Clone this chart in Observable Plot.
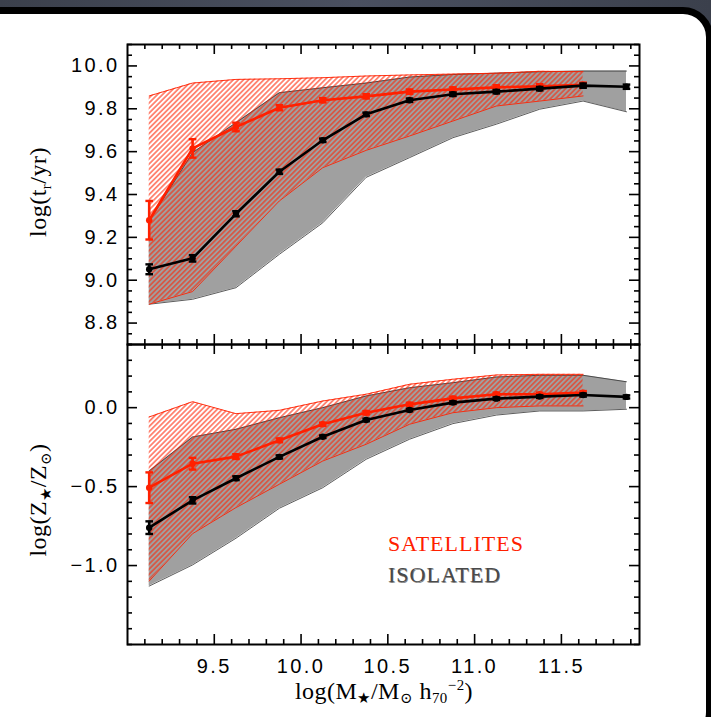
<!DOCTYPE html>
<html><head><meta charset="utf-8">
<script src="https://cdn.jsdelivr.net/npm/d3@7"></script>
<script src="https://cdn.jsdelivr.net/npm/@observablehq/plot@0.6"></script>
<style>
html,body{margin:0;padding:0}
body{width:711px;height:717px;overflow:hidden;position:relative;background:linear-gradient(90deg,#3b404c,#4a5060,#3b404c);}
#card{position:absolute;left:-40px;top:7px;width:753px;height:735px;box-sizing:border-box;border:7px solid #000;border-radius:30px;background:#fff;}
.panel{position:absolute;left:0}
.ttl{position:absolute;font-family:"Liberation Serif","DejaVu Serif",serif;font-size:24px;letter-spacing:0.5px;color:#000;white-space:nowrap;line-height:1}
.ttl sub{font-size:0.62em;vertical-align:-0.3em}
.ttl sup{font-size:0.62em;vertical-align:0.6em}
.rot{transform:translate(-50%,-50%) rotate(-90deg)}
.legend{position:absolute;font-family:"Liberation Serif","DejaVu Serif",serif;font-size:22px;letter-spacing:1px;line-height:1;white-space:nowrap}
</style>
</head><body>
<div id="card"></div>
<svg width="0" height="0" style="position:absolute">
  <defs>
    <pattern id="hatch" patternUnits="userSpaceOnUse" width="3.6" height="3.6" patternTransform="rotate(45)">
      <line x1="1.8" y1="-1" x2="1.8" y2="4.6" stroke="#ff2000" stroke-width="1"/>
    </pattern>
  </defs>
</svg>
<div id="top" class="panel" style="top:0"></div>
<div id="bottom" class="panel" style="top:344px"></div>
<div class="ttl rot" style="left:40px;top:192px">log(t<sub>r</sub>/yr)</div>
<div class="ttl rot" style="left:40px;top:500px">log(Z<sub>★</sub>/Z<sub>⊙</sub>)</div>
<div class="ttl" style="left:384px;top:678px;transform:translateX(-50%)">log(M<sub>★</sub>/M<sub>⊙</sub> h<sub>70</sub><sup>−2</sup>)</div>
<div class="legend" style="left:388px;top:533px;color:#ff2000">SATELLITES</div>
<div class="legend" style="left:388px;top:564px;color:#4a4a4a;text-shadow:0.6px 0.6px 0.6px #888">ISOLATED</div>
<script>
// ---- data ----
const massBins = [9.125, 9.375, 9.625, 9.875, 10.125, 10.375, 10.625, 10.875, 11.125, 11.375, 11.625, 11.875];

// log(t_r/yr) : light-weighted age
const satAge    = [9.28, 9.615, 9.715, 9.805, 9.84, 9.858, 9.88, 9.89, 9.90, 9.905, 9.912];
const satAgeErr = [0.09, 0.043, 0.02, 0.012, 0.01, 0.01, 0.01, 0.01, 0.01, 0.01, 0.01];
const satAgeHi  = [9.86, 9.92, 9.937, 9.94, 9.945, 9.953, 9.958, 9.962, 9.966, 9.975, 9.973];
const satAgeLo  = [8.888, 8.947, 9.159, 9.37, 9.525, 9.606, 9.673, 9.743, 9.813, 9.836, 9.86];
const isoAge    = [9.051, 9.102, 9.31, 9.506, 9.653, 9.774, 9.84, 9.868, 9.88, 9.894, 9.908, 9.903];
const isoAgeErr = [0.023, 0.015, 0.012, 0.01, 0.008, 0.008, 0.008, 0.008, 0.008, 0.008, 0.01, 0.01];
const isoAgeHi  = [9.276, 9.595, 9.735, 9.875, 9.898, 9.92, 9.948, 9.96, 9.966, 9.973, 9.976, 9.976];
const isoAgeLo  = [8.888, 8.911, 8.965, 9.121, 9.268, 9.48, 9.572, 9.665, 9.728, 9.798, 9.836, 9.786];

// log(Z*/Zsun) : stellar metallicity
const satZ    = [-0.507, -0.355, -0.31, -0.207, -0.105, -0.032, 0.021, 0.059, 0.085, 0.085, 0.095];
const satZErr = [0.097, 0.037, 0.015, 0.012, 0.01, 0.01, 0.01, 0.01, 0.01, 0.01, 0.01];
const satZHi  = [-0.059, 0.038, -0.038, -0.017, 0.042, 0.085, 0.148, 0.18, 0.207, 0.211, 0.211];
const satZLo  = [-1.098, -0.798, -0.633, -0.485, -0.338, -0.232, -0.105, -0.032, 0.0, 0.011, 0.011];
const isoZ    = [-0.76, -0.587, -0.447, -0.312, -0.184, -0.078, -0.015, 0.032, 0.057, 0.07, 0.08, 0.068];
const isoZErr = [0.04, 0.02, 0.012, 0.01, 0.008, 0.008, 0.008, 0.008, 0.008, 0.008, 0.01, 0.01];
const isoZHi  = [-0.401, -0.186, -0.137, -0.064, 0.0, 0.074, 0.126, 0.158, 0.194, 0.205, 0.205, 0.164];
const isoZLo  = [-1.13, -0.996, -0.827, -0.637, -0.507, -0.327, -0.2, -0.101, -0.047, -0.021, -0.021, -0.01];

// axes
const xDomain = [9.0, 11.95];
const xTickLabels = [9.5, 10.0, 10.5, 11.0, 11.5];
const ageDomain = [8.7, 10.1];
const ageTickLabels = [8.8, 9.0, 9.2, 9.4, 9.6, 9.8, 10.0];
const zDomain = [-1.5, 0.4];
const zTickLabels = [-1.0, -0.5, 0.0];

// ---- helpers ----
const RED = "#ff2000";
const FW = 512, FH = 300;
const rows = (v, e, lo, hi) => v.map((d, i) => ({m: massBins[i], v: d, e: e[i], lo: lo[i], hi: hi[i]}));
const fmt = d => d.toFixed(1).replace("-", "\u2212");
const near = (a, list) => list.some(b => Math.abs(a - b) < 1e-6);
const minor = (lo, hi, step, majors) => d3.range(Math.round(lo / step), Math.round(hi / step) + 1).map(k => +(k * step).toFixed(3)).filter(d => !near(d, majors));
const cap = {draw(ctx, size) { const r = Math.sqrt(size / Math.PI); ctx.moveTo(-r, 0); ctx.lineTo(r, 0); }};

function series(data, color) {
  return [
    Plot.line(data, {x: "m", y: "v", stroke: color, strokeWidth: 2.6}),
    Plot.ruleX(data, {x: "m", y1: d => d.v - d.e, y2: d => d.v + d.e, stroke: color, strokeWidth: 2.6}),
    Plot.dot(data, {x: "m", y: d => d.v + d.e, symbol: cap, r: 3.8, stroke: color, fill: "none", strokeWidth: 2.4}),
    Plot.dot(data, {x: "m", y: d => d.v - d.e, symbol: cap, r: 3.8, stroke: color, fill: "none", strokeWidth: 2.4}),
    Plot.dot(data, {x: "m", y: "v", r: 3.2, fill: color, stroke: "none"})
  ];
}

function panel({height, marginTop, marginBottom, yDomain, yLabels, yMinorStep, sat, iso, showX}) {
  const xMaj = xTickLabels;
  const xMin = minor(9.1, 11.9, 0.1, xMaj);
  const yMin = minor(yDomain[0], yDomain[1], yMinorStep, yLabels);
  const tickStyle = {stroke: "#000", strokeWidth: 1.6};
  return Plot.plot({
    width: 711, height, marginLeft: 127, marginRight: 72, marginTop, marginBottom,
    x: {domain: xDomain, axis: null},
    y: {domain: yDomain, axis: null},
    style: {background: "transparent", fontFamily: "'Liberation Sans', Arial, sans-serif", fontSize: "20px", letterSpacing: "2.4px", color: "#000", overflow: "visible"},
    marks: [
      Plot.areaY(iso, {x: "m", y1: "lo", y2: "hi", fill: "#a0a0a0"}),
      Plot.lineY(iso, {x: "m", y: "hi", stroke: "#333", strokeWidth: 0.8}),
      Plot.lineY(iso, {x: "m", y: "lo", stroke: "#333", strokeWidth: 0.8}),
      Plot.areaY(sat, {x: "m", y1: "lo", y2: "hi", fill: "url(#hatch)"}),
      Plot.lineY(sat, {x: "m", y: "hi", stroke: RED, strokeWidth: 0.9}),
      Plot.lineY(sat, {x: "m", y: "lo", stroke: RED, strokeWidth: 0.9}),
      ...series(sat, RED),
      ...series(iso, "#000"),
      Plot.ruleX(xMaj, {x: d => d, insetTop: FH - 10, ...tickStyle}),
      Plot.ruleX(xMaj, {x: d => d, insetBottom: FH - 10, ...tickStyle}),
      Plot.ruleX(xMin, {x: d => d, insetTop: FH - 5, ...tickStyle}),
      Plot.ruleX(xMin, {x: d => d, insetBottom: FH - 5, ...tickStyle}),
      Plot.ruleY(yLabels, {y: d => d, insetRight: FW - 10, ...tickStyle}),
      Plot.ruleY(yLabels, {y: d => d, insetLeft: FW - 10, ...tickStyle}),
      Plot.ruleY(yMin, {y: d => d, insetRight: FW - 5, ...tickStyle}),
      Plot.ruleY(yMin, {y: d => d, insetLeft: FW - 5, ...tickStyle}),
      Plot.frame({stroke: "#000", strokeWidth: 2}),
      Plot.axisY({ticks: yLabels, tickSize: 0, tickPadding: 8, tickFormat: fmt, label: null, fill: "#000"}),
      showX ? Plot.axisX({ticks: xMaj, tickSize: 0, tickPadding: 14, tickFormat: fmt, label: null, fill: "#000"}) : null
    ]
  });
}

document.getElementById("top").append(panel({
  height: 344, marginTop: 44, marginBottom: 0,
  yDomain: ageDomain, yLabels: ageTickLabels, yMinorStep: 0.05,
  sat: rows(satAge, satAgeErr, satAgeLo, satAgeHi),
  iso: rows(isoAge, isoAgeErr, isoAgeLo, isoAgeHi),
  showX: false
}));
document.getElementById("bottom").append(panel({
  height: 373, marginTop: 0, marginBottom: 73,
  yDomain: zDomain, yLabels: zTickLabels, yMinorStep: 0.1,
  sat: rows(satZ, satZErr, satZLo, satZHi),
  iso: rows(isoZ, isoZErr, isoZLo, isoZHi),
  showX: true
}));
</script>
</body></html>
